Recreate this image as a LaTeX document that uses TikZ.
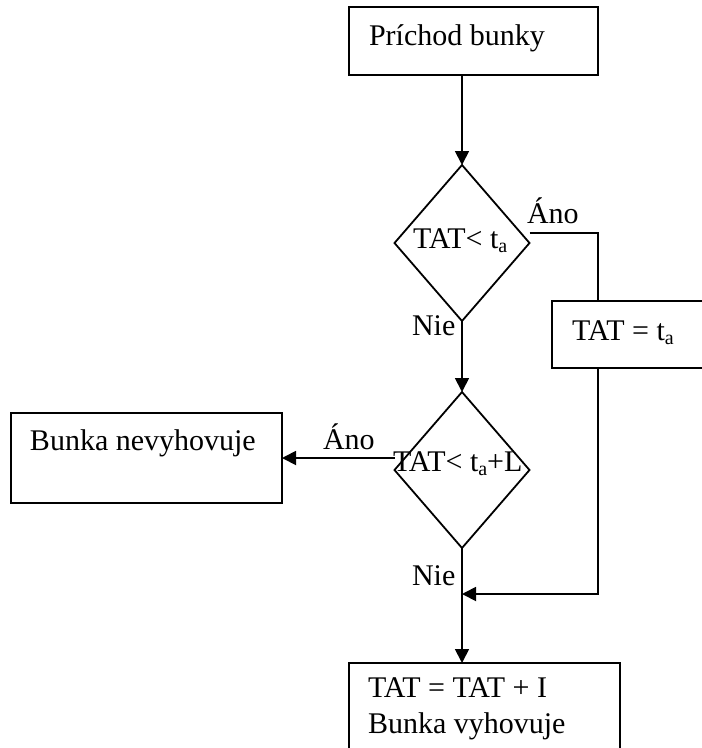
\documentclass[tikz,border=0pt]{standalone}
\usepackage{fontspec}
\setmainfont{Liberation Serif}
\usetikzlibrary{shapes.geometric,arrows.meta}
\newcommand{\lowsub}[1]{\raisebox{-0.16em}{\fontsize{20pt}{20pt}\selectfont #1}}
\begin{document}
\begin{tikzpicture}[x=1pt,y=-1pt,
  every node/.style={font=\fontsize{30pt}{34.5pt}\selectfont},
  boxn/.style={draw, line width=1.8pt, inner sep=0pt, outer sep=0pt},
  dia/.style={draw, diamond, line width=1.8pt, inner sep=0pt, outer sep=0pt, minimum width=135pt, minimum height=156pt},
  txt/.style={anchor=base west, inner sep=0pt, outer sep=0pt},
  conn/.style={line width=1.8pt},
  arr/.style={line width=1.8pt, -{Triangle[length=14pt,width=14pt]}}]
\useasboundingbox (0,0) rectangle (702,748);
\clip (0,0) rectangle (702,748);
% shapes
\node[boxn, minimum width=249pt, minimum height=68pt] (b1) at (473.5,41) {};
\node[dia] (d1) at (462,243) {};
\node[boxn, minimum width=160pt, minimum height=67pt] (b2) at (632,334.5) {};
\node[dia] (d2) at (462,470) {};
\node[boxn, minimum width=271pt, minimum height=90pt] (b3) at (146.5,458) {};
\node[boxn, minimum width=271pt, minimum height=100pt] (b4) at (484.5,713) {};
% texts
\node[txt] (t1) at (369,45) {Príchod bunky};
\node[txt] (t2) at (413,248) {TAT< t\lowsub{a}};
\node[txt] (t3) at (527,223) {Áno};
\node[txt] (t4) at (412,335) {Nie};
\node[txt] (t5) at (572,340) {TAT = t\lowsub{a}};
\node[txt] (t6) at (393,471) {TAT< t\lowsub{a}+L};
\node[txt] (t7) at (323,449) {Áno};
\node[txt] (t8) at (30,450) {Bunka nevyhovuje};
\node[txt] (t9) at (412,585) {Nie};
\node[txt] (t10) at (368,697) {TAT = TAT + I};
\node[txt] (t11) at (368,733) {Bunka vyhovuje};
% helper coordinates
\coordinate (rx) at (598,0);
\coordinate (m) at (462,594);
% connectors
\draw[arr] (b1.south -| d1.north) -- (d1.north);
\draw[conn] ([yshift=10pt]d1.east) -| (rx |- b2.north);
\draw[arr] (d1.south) -- (d2.north);
\draw[arr] (d2.west |- b3.east) -- (b3.east);
\draw[arr] (d2.south) -- (b4.north -| d2.south);
\draw[arr] (rx |- b2.south) |- (m);
\end{tikzpicture}
\end{document}
